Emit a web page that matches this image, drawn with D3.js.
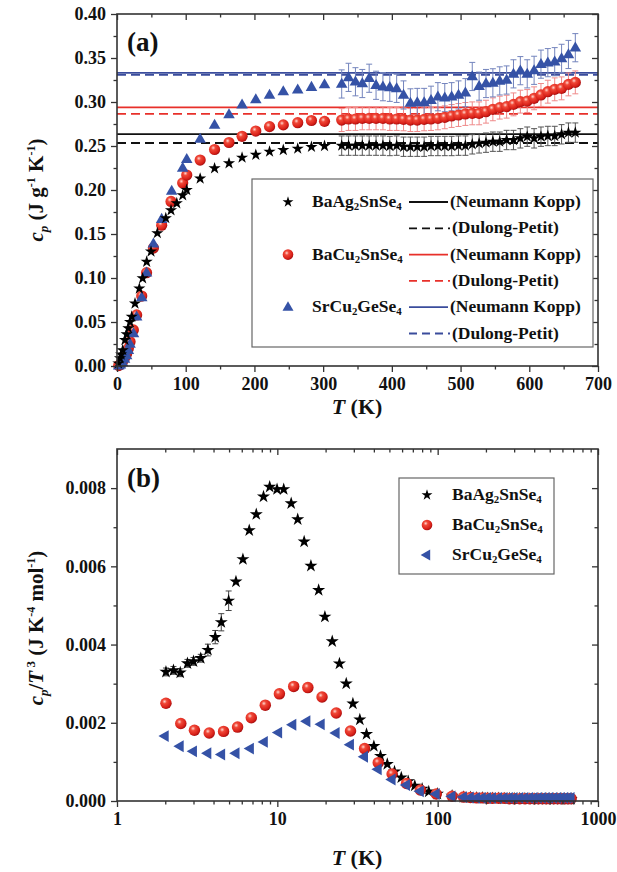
<!DOCTYPE html>
<html><head><meta charset="utf-8">
<script src="https://cdn.jsdelivr.net/npm/d3@7"></script>
<style>
body{margin:0;background:#fff}
svg{display:block}
text{font-family:"Liberation Serif","Times New Roman",serif;font-weight:bold;fill:#111}
</style>
</head><body>
<svg id="c" width="617" height="872"></svg>
<script>
// ---------------- DATA ----------------
const compounds = ["BaAg2SnSe4", "BaCu2SnSe4", "SrCu2GeSe4"];

// Panel (a): cp (J g^-1 K^-1) vs T (K), low-temperature part
const aBlackT  = [2, 4.4, 6, 8.3, 11.6, 14, 16.5, 19, 21.4, 26.2, 32.5, 37.3, 43.2, 49.5, 58.7, 71, 78.6, 87, 95.6, 101.5, 121, 142, 163, 182, 202, 222, 242, 263, 283, 302];
const aBlackCp = [0.003, 0.0087, 0.013, 0.018, 0.0295, 0.036, 0.043, 0.050, 0.056, 0.071, 0.088, 0.0996, 0.1185, 0.130, 0.151, 0.168, 0.177, 0.185, 0.194, 0.200, 0.213, 0.2246, 0.2303, 0.2368, 0.240, 0.2436, 0.2455, 0.247, 0.249, 0.250];
const aRedT    = [2.5, 5, 8, 11, 14, 16.5, 19, 23.8, 28.6, 36, 43, 53, 65, 78.6, 95.6, 101.5, 121, 142, 163, 182, 202, 222, 242, 263, 283, 302];
const aRedCp   = [0.0005, 0.002, 0.005, 0.009, 0.014, 0.020, 0.0276, 0.041, 0.058, 0.0795, 0.106, 0.134, 0.160, 0.187, 0.208, 0.217, 0.234, 0.246, 0.254, 0.261, 0.267, 0.272, 0.274, 0.2765, 0.279, 0.278];
const aBlueT   = [2.5, 5, 8, 11, 14, 16.5, 19, 24, 28.6, 36, 43, 53, 65, 79.6, 95.6, 101.5, 121, 142, 163, 182, 202, 222, 242, 263, 283, 302];
const aBlueCp  = [0.0004, 0.0015, 0.004, 0.008, 0.012, 0.018, 0.025, 0.037, 0.056, 0.078, 0.106, 0.139, 0.167, 0.199, 0.225, 0.235, 0.258, 0.274, 0.286, 0.297, 0.303, 0.308, 0.312, 0.314, 0.317, 0.320];

// Panel (a): high-temperature part (with error bars)
const aHighT = [327, 337, 347, 357, 367, 377, 387, 397, 407, 417, 427, 437, 447, 457, 467, 477, 487, 497, 507, 517, 527, 537, 547, 557, 567, 577, 587, 597, 607, 617, 627, 637, 647, 657, 667];
const aHighBlack = [0.2504, 0.2504, 0.2504, 0.2504, 0.2504, 0.2504, 0.2504, 0.250, 0.2504, 0.2492, 0.2492, 0.2492, 0.2492, 0.250, 0.250, 0.250, 0.250, 0.2504, 0.2504, 0.2519, 0.253, 0.2538, 0.2549, 0.2549, 0.2568, 0.2568, 0.2587, 0.2606, 0.2587, 0.2606, 0.2614, 0.2614, 0.2633, 0.2652, 0.2652];
const aHighRed   = [0.2795, 0.2807, 0.2807, 0.2814, 0.2814, 0.2814, 0.2814, 0.2807, 0.2807, 0.2803, 0.2795, 0.2795, 0.2803, 0.2807, 0.2814, 0.2826, 0.2841, 0.2852, 0.2864, 0.2871, 0.2871, 0.289, 0.2917, 0.2936, 0.2947, 0.2973, 0.3004, 0.3011, 0.3042, 0.308, 0.3117, 0.3144, 0.3155, 0.320, 0.3223];
const aHighBlue  = [0.3205, 0.328, 0.323, 0.321, 0.327, 0.319, 0.3174, 0.3167, 0.3155, 0.308, 0.299, 0.2995, 0.2995, 0.302, 0.306, 0.305, 0.306, 0.308, 0.3106, 0.329, 0.318, 0.321, 0.3218, 0.324, 0.325, 0.332, 0.3356, 0.332, 0.336, 0.343, 0.3447, 0.3458, 0.3496, 0.354, 0.3617];
const aErrBlack = 0.011, aErrRed = 0.013, aErrBlue = 0.016;

// Panel (a): reference lines [Neumann-Kopp, Dulong-Petit]
const nkLines = [0.2636, 0.294, 0.333];
const dpLines = [0.2534, 0.2864, 0.3308];

// Panel (a) ticks
const aXMajor = [0, 100, 200, 300, 400, 500, 600, 700];
const aXMinor = [50, 150, 250, 350, 450, 550, 650];
const aYMajor = [0.00, 0.05, 0.10, 0.15, 0.20, 0.25, 0.30, 0.35, 0.40];
const aYMinor = [0.025, 0.075, 0.125, 0.175, 0.225, 0.275, 0.325, 0.375];

// Panel (b): cp/T^3 (J K^-4 mol^-1) vs T (K), log x
const bBlackT = [2.02, 2.25, 2.48, 2.75, 3.0, 3.33, 3.69, 4.1, 4.47, 4.97, 5.52, 6.1, 6.68, 7.39, 8.2, 8.96, 9.96, 10.96, 12.2, 13.4, 14.7, 16.2, 18.1, 19.8, 22, 24.4, 26.9, 29.6, 32.7, 36, 40, 44, 48.5, 53.8, 59.3, 65.5, 72, 80, 88, 99.6,
                 123, 145, 160, 175, 190, 205, 220, 240, 260, 280, 300, 325, 350, 375, 400, 425, 450, 475, 500, 530, 560, 590, 620, 650, 680];
const bBlackV = [0.00330, 0.00334, 0.00328, 0.00352, 0.00357, 0.00365, 0.00386, 0.00419, 0.00457, 0.00512, 0.00561, 0.00618, 0.00692, 0.00733, 0.00778, 0.00803, 0.00797, 0.00797, 0.00761, 0.00720, 0.00663, 0.00601, 0.00539, 0.00471, 0.00408, 0.00351, 0.00300, 0.00249, 0.00208, 0.00171, 0.00140, 0.00115, 0.00094, 0.00075, 0.00060, 0.00050, 0.00039, 0.00031, 0.00024, 0.00018,
                 0.00013, 0.00010, 0.00009, 0.00008, 0.00008, 0.00007, 0.00007, 0.00007, 0.00006, 0.00006, 0.00006, 0.00006, 0.00006, 0.00005, 0.00005, 0.00005, 0.00005, 0.00005, 0.00005, 0.00005, 0.00005, 0.00005, 0.00005, 0.00005, 0.00005];
const bBlackErr = [0.0001, 0.0001, 0.0001, 0.0001, 0.0001, 0.0001, 0.00015, 0.00017, 0.00022, 0.00025];
const bRedT = [2.02, 2.5, 3.04, 3.76, 4.62, 5.65, 6.88, 8.41, 10.3, 12.65, 15.5, 19, 23.3, 28.6, 35, 42.6, 52, 64, 78, 98,
               123, 145, 160, 175, 190, 205, 220, 240, 260, 280, 300, 325, 350, 375, 400, 425, 450, 475, 500, 530, 560, 590, 620, 650, 680];
const bRedV = [0.00250, 0.00198, 0.00181, 0.00174, 0.00178, 0.00189, 0.00213, 0.00245, 0.00274, 0.00293, 0.00290, 0.00266, 0.00225, 0.00179, 0.00134, 0.00098, 0.00069, 0.00045, 0.00028, 0.00018,
               0.00012, 0.00010, 0.00009, 0.00008, 0.00008, 0.00007, 0.00007, 0.00007, 0.00007, 0.00006, 0.00006, 0.00006, 0.00006, 0.00006, 0.00006, 0.00006, 0.00006, 0.00006, 0.00006, 0.00006, 0.00006, 0.00006, 0.00006, 0.00006, 0.00006];
const bBlueT = [2.0, 2.48, 3.0, 3.69, 4.5, 5.53, 6.8, 8.3, 10.2, 12.5, 15.3, 18.8, 23.3, 28.6, 35, 42.6, 52, 64, 78, 98,
                123, 145, 160, 175, 190, 205, 220, 240, 260, 280, 300, 325, 350, 375, 400, 425, 450, 475, 500, 530, 560, 590, 620, 650, 680];
const bBlueV = [0.00166, 0.00140, 0.00127, 0.00122, 0.00119, 0.00122, 0.00134, 0.00151, 0.00175, 0.00195, 0.00204, 0.00196, 0.00174, 0.00144, 0.00113, 0.00081, 0.00055, 0.00041, 0.00025, 0.00018,
                0.00012, 0.00010, 0.00009, 0.00008, 0.00008, 0.00008, 0.00008, 0.00008, 0.00008, 0.00008, 0.00008, 0.00008, 0.00008, 0.00008, 0.00008, 0.00008, 0.00008, 0.00008, 0.00008, 0.00008, 0.00008, 0.00008, 0.00008, 0.00008, 0.00008];

// Panel (b) ticks
const bXMajor = [1, 10, 100, 1000];
const bXMinor = [2, 3, 4, 5, 6, 7, 8, 9, 20, 30, 40, 50, 60, 70, 80, 90, 200, 300, 400, 500, 600, 700, 800, 900];
const bYMajor = [0.000, 0.002, 0.004, 0.006, 0.008];
const bYMinor = [0.001, 0.003, 0.005, 0.007];

// ---------------- DRAWING ----------------
const svg = d3.select("#c");
svg.append("rect").attr("width", 617).attr("height", 872).attr("fill", "#fff");

const defs = svg.append("defs");
const grad = defs.append("radialGradient").attr("id", "sph").attr("cx", "38%").attr("cy", "35%").attr("r", "65%");
grad.append("stop").attr("offset", "0%").attr("stop-color", "#ffd8d0");
grad.append("stop").attr("offset", "30%").attr("stop-color", "#f04838");
grad.append("stop").attr("offset", "80%").attr("stop-color", "#d82018");
grad.append("stop").attr("offset", "100%").attr("stop-color", "#a81010");

const BLUE = "#3552a6", RED = "#e8302a", AXC = "#333";
const starPath = s => d3.symbol().type(d3.symbolStar).size(s)();
const triPath = s => d3.symbol().type(d3.symbolTriangle).size(s)();

function drawMarker(g, kind, x, y, scale) {
  scale = scale || 1;
  if (kind === "star") {
    g.append("path").attr("d", starPath(46 * scale)).attr("transform", `translate(${x},${y})`).attr("fill", "#000");
  } else if (kind === "sphere") {
    g.append("circle").attr("cx", x).attr("cy", y).attr("r", 5.6 * Math.sqrt(scale)).attr("fill", "url(#sph)");
  } else if (kind === "tri") {
    g.append("path").attr("d", triPath(58 * scale)).attr("transform", `translate(${x},${y + 0.5})`).attr("fill", BLUE);
  } else if (kind === "triL") {
    g.append("path").attr("d", triPath(58 * scale)).attr("transform", `translate(${x},${y}) rotate(-90)`).attr("fill", BLUE);
  }
}

function frameAxes(g, x, y, xMaj, xMin, yMaj, yMin, xFmt, yFmt, L, R, T, B) {
  const ax = g.append("g").attr("class", "axes");
  ax.append("g").attr("transform", `translate(0,${B})`)
    .call(d3.axisBottom(x).tickValues(xMaj).tickSize(6).tickPadding(5).tickFormat(xFmt));
  ax.append("g").attr("transform", `translate(0,${B})`)
    .call(d3.axisBottom(x).tickValues(xMin).tickSize(3.5).tickFormat(""));
  ax.append("g").attr("transform", `translate(0,${T})`)
    .call(d3.axisTop(x).tickValues(xMaj).tickSize(-6).tickFormat(""));
  ax.append("g").attr("transform", `translate(0,${T})`)
    .call(d3.axisTop(x).tickValues(xMin).tickSize(-3.5).tickFormat(""));
  ax.append("g").attr("transform", `translate(${L},0)`)
    .call(d3.axisLeft(y).tickValues(yMaj).tickSize(6).tickPadding(5).tickFormat(yFmt));
  ax.append("g").attr("transform", `translate(${L},0)`)
    .call(d3.axisLeft(y).tickValues(yMin).tickSize(3.5).tickFormat(""));
  ax.append("g").attr("transform", `translate(${R},0)`)
    .call(d3.axisRight(y).tickValues(yMaj).tickSize(-6).tickFormat(""));
  ax.append("g").attr("transform", `translate(${R},0)`)
    .call(d3.axisRight(y).tickValues(yMin).tickSize(-3.5).tickFormat(""));
  ax.selectAll(".domain").remove();
  ax.selectAll(".tick line").attr("stroke", AXC).attr("stroke-width", 1.3);
  ax.selectAll(".tick text").attr("font-size", 18).attr("font-family", '"Liberation Serif",serif').attr("font-weight", "bold").attr("fill", "#111");
  g.append("rect").attr("x", L).attr("y", T).attr("width", R - L).attr("height", B - T)
    .attr("fill", "none").attr("stroke", AXC).attr("stroke-width", 1.6);
}

// formula text with subscripts
function formula(g, x, y, parts, size) {
  const t = g.append("text").attr("x", x).attr("y", y).attr("font-size", size).attr("dominant-baseline", "middle");
  let shifted = 0;
  parts.forEach(p => {
    const isSub = /^[0-9]$/.test(p);
    const dy = isSub ? 5 : -shifted;
    shifted = isSub ? 5 : 0;
    t.append("tspan").attr("dy", dy).attr("font-size", isSub ? size * 0.62 : size).text(p);
  });
  return t;
}
const formulaParts = [["BaAg", "2", "SnSe", "4"], ["BaCu", "2", "SnSe", "4"], ["SrCu", "2", "GeSe", "4"]];

// ======== Panel (a) ========
const aL = 117, aR = 598, aT = 14, aB = 366;
const xa = d3.scaleLinear().domain([0, 700]).range([aL, aR]);
const ya = d3.scaleLinear().domain([0, 0.40]).range([aB, aT]);
const ga = svg.append("g");

const lineCols = ["#111", RED, "#3a4c9c"];
nkLines.forEach((v, i) => ga.append("line").attr("x1", aL).attr("x2", aR).attr("y1", ya(v)).attr("y2", ya(v))
  .attr("stroke", lineCols[i]).attr("stroke-width", 1.8));
dpLines.forEach((v, i) => ga.append("line").attr("x1", aL).attr("x2", aR).attr("y1", ya(v)).attr("y2", ya(v))
  .attr("stroke", lineCols[i]).attr("stroke-width", 1.8).attr("stroke-dasharray", "9,5"));

function errBars(g, xs, ys, T, V, E, col) {
  T.forEach((t, i) => {
    const e = Array.isArray(E) ? E[i] : E;
    if (!e) return;
    const cx = xs(t), y1 = ys(V[i] - e), y2 = ys(V[i] + e);
    g.append("line").attr("x1", cx).attr("x2", cx).attr("y1", y1).attr("y2", y2).attr("stroke", col).attr("stroke-width", 1);
    [y1, y2].forEach(yy => g.append("line").attr("x1", cx - 3).attr("x2", cx + 3).attr("y1", yy).attr("y2", yy).attr("stroke", col).attr("stroke-width", 1));
  });
}
errBars(ga, xa, ya, aHighT, aHighBlack, aErrBlack, "#555");
errBars(ga, xa, ya, aHighT, aHighRed, aErrRed, "#ef8a8a");
errBars(ga, xa, ya, aHighT, aHighBlue, aErrBlue, "#7384bd");

const aSets = [
  {kind: "sphere", T: aRedT.concat(aHighT), V: aRedCp.concat(aHighRed)},
  {kind: "tri", T: aBlueT.concat(aHighT), V: aBlueCp.concat(aHighBlue)},
  {kind: "star", T: aBlackT.concat(aHighT), V: aBlackCp.concat(aHighBlack)}
];
aSets.forEach(s => s.T.forEach((t, i) => drawMarker(ga, s.kind, xa(t), ya(s.V[i]))));

frameAxes(ga, xa, ya, aXMajor, aXMinor, aYMajor, aYMinor, d3.format("d"), d3.format(".2f"), aL, aR, aT, aB);

ga.append("text").attr("x", 127).attr("y", 51).attr("font-size", 27).text("(a)");

const lgA = ga.append("g");
lgA.append("rect").attr("x", 252).attr("y", 179).attr("width", 341).attr("height", 168)
  .attr("fill", "#fff").attr("stroke", "#666").attr("stroke-width", 1.2);
const legKinds = ["star", "sphere", "tri"];
const rowY = i => 202 + 26.3 * i;
legKinds.forEach((k, i) => {
  const y1 = rowY(2 * i), y2 = rowY(2 * i + 1);
  drawMarker(lgA, k, 288, y1, k === "star" ? 0.8 : 0.9);
  formula(lgA, 312, y1 + 1, formulaParts[i], 17.5);
  lgA.append("line").attr("x1", 409).attr("x2", 448).attr("y1", y1).attr("y2", y1).attr("stroke", lineCols[i]).attr("stroke-width", 1.8);
  lgA.append("text").attr("x", 450).attr("y", y1 + 1).attr("font-size", 17.5).attr("dominant-baseline", "middle").text("(Neumann Kopp)");
  lgA.append("line").attr("x1", 409).attr("x2", 450).attr("y1", y2).attr("y2", y2).attr("stroke", lineCols[i]).attr("stroke-width", 1.8).attr("stroke-dasharray", "8,5");
  lgA.append("text").attr("x", 452).attr("y", y2 + 1).attr("font-size", 17.5).attr("dominant-baseline", "middle").text("(Dulong-Petit)");
});

const xtA = ga.append("text").attr("x", 357).attr("y", 414).attr("text-anchor", "middle").attr("font-size", 22);
xtA.append("tspan").attr("font-style", "italic").text("T");
xtA.append("tspan").text(" (K)");
const ytA = ga.append("text").attr("transform", "translate(43,190) rotate(-90)").attr("text-anchor", "middle").attr("font-size", 21);
ytA.append("tspan").attr("font-style", "italic").text("c");
ytA.append("tspan").attr("font-style", "italic").attr("font-size", 13).attr("dy", 5).text("p");
ytA.append("tspan").attr("dy", -5).text(" (J g");
ytA.append("tspan").attr("font-size", 12).attr("dy", -8).text("-1");
ytA.append("tspan").attr("dy", 8).text(" K");
ytA.append("tspan").attr("font-size", 12).attr("dy", -8).text("-1");
ytA.append("tspan").attr("dy", 8).text(")");

// ======== Panel (b) ========
const bL = 117, bR = 598, bT = 449, bB = 801;
const xb = d3.scaleLog().domain([1, 1000]).range([bL, bR]);
const yb = d3.scaleLinear().domain([0, 0.009]).range([bB, bT]);
const gb = svg.append("g");

errBars(gb, xb, yb, bBlackT.slice(0, bBlackErr.length), bBlackV, bBlackErr, "#444");
const bSets = [
  {kind: "star", T: bBlackT, V: bBlackV},
  {kind: "sphere", T: bRedT, V: bRedV},
  {kind: "triL", T: bBlueT, V: bBlueV}
];
bSets.forEach(s => s.T.forEach((t, i) => drawMarker(gb, s.kind, xb(t), yb(s.V[i]), s.kind === "star" ? 1.15 : 1.05)));

frameAxes(gb, xb, yb, bXMajor, bXMinor, bYMajor, bYMinor, d3.format("d"), d3.format(".3f"), bL, bR, bT, bB);

gb.append("text").attr("x", 127).attr("y", 487).attr("font-size", 27).text("(b)");

const lgB = gb.append("g");
lgB.append("rect").attr("x", 399).attr("y", 478).attr("width", 155).attr("height", 96)
  .attr("fill", "#fff").attr("stroke", "#666").attr("stroke-width", 1.2);
const legKindsB = ["star", "sphere", "triL"];
[495, 525, 555].forEach((y, i) => {
  drawMarker(lgB, legKindsB[i], 427, y, legKindsB[i] === "star" ? 0.8 : 0.9);
  formula(lgB, 452, y + 1, formulaParts[i], 17.5);
});

const xtB = gb.append("text").attr("x", 357).attr("y", 865).attr("text-anchor", "middle").attr("font-size", 22);
xtB.append("tspan").attr("font-style", "italic").text("T");
xtB.append("tspan").text(" (K)");
const ytB = gb.append("text").attr("transform", "translate(43,628) rotate(-90)").attr("text-anchor", "middle").attr("font-size", 21);
ytB.append("tspan").attr("font-style", "italic").text("c");
ytB.append("tspan").attr("font-style", "italic").attr("font-size", 13).attr("dy", 5).text("p");
ytB.append("tspan").attr("dy", -5).text("/");
ytB.append("tspan").attr("font-style", "italic").text("T");
ytB.append("tspan").attr("font-size", 13).attr("dy", -8).text(" 3");
ytB.append("tspan").attr("dy", 8).text(" (J K");
ytB.append("tspan").attr("font-size", 12).attr("dy", -8).text("-4");
ytB.append("tspan").attr("dy", 8).text(" mol");
ytB.append("tspan").attr("font-size", 12).attr("dy", -8).text("-1");
ytB.append("tspan").attr("dy", 8).text(")");
</script>
</body></html>
